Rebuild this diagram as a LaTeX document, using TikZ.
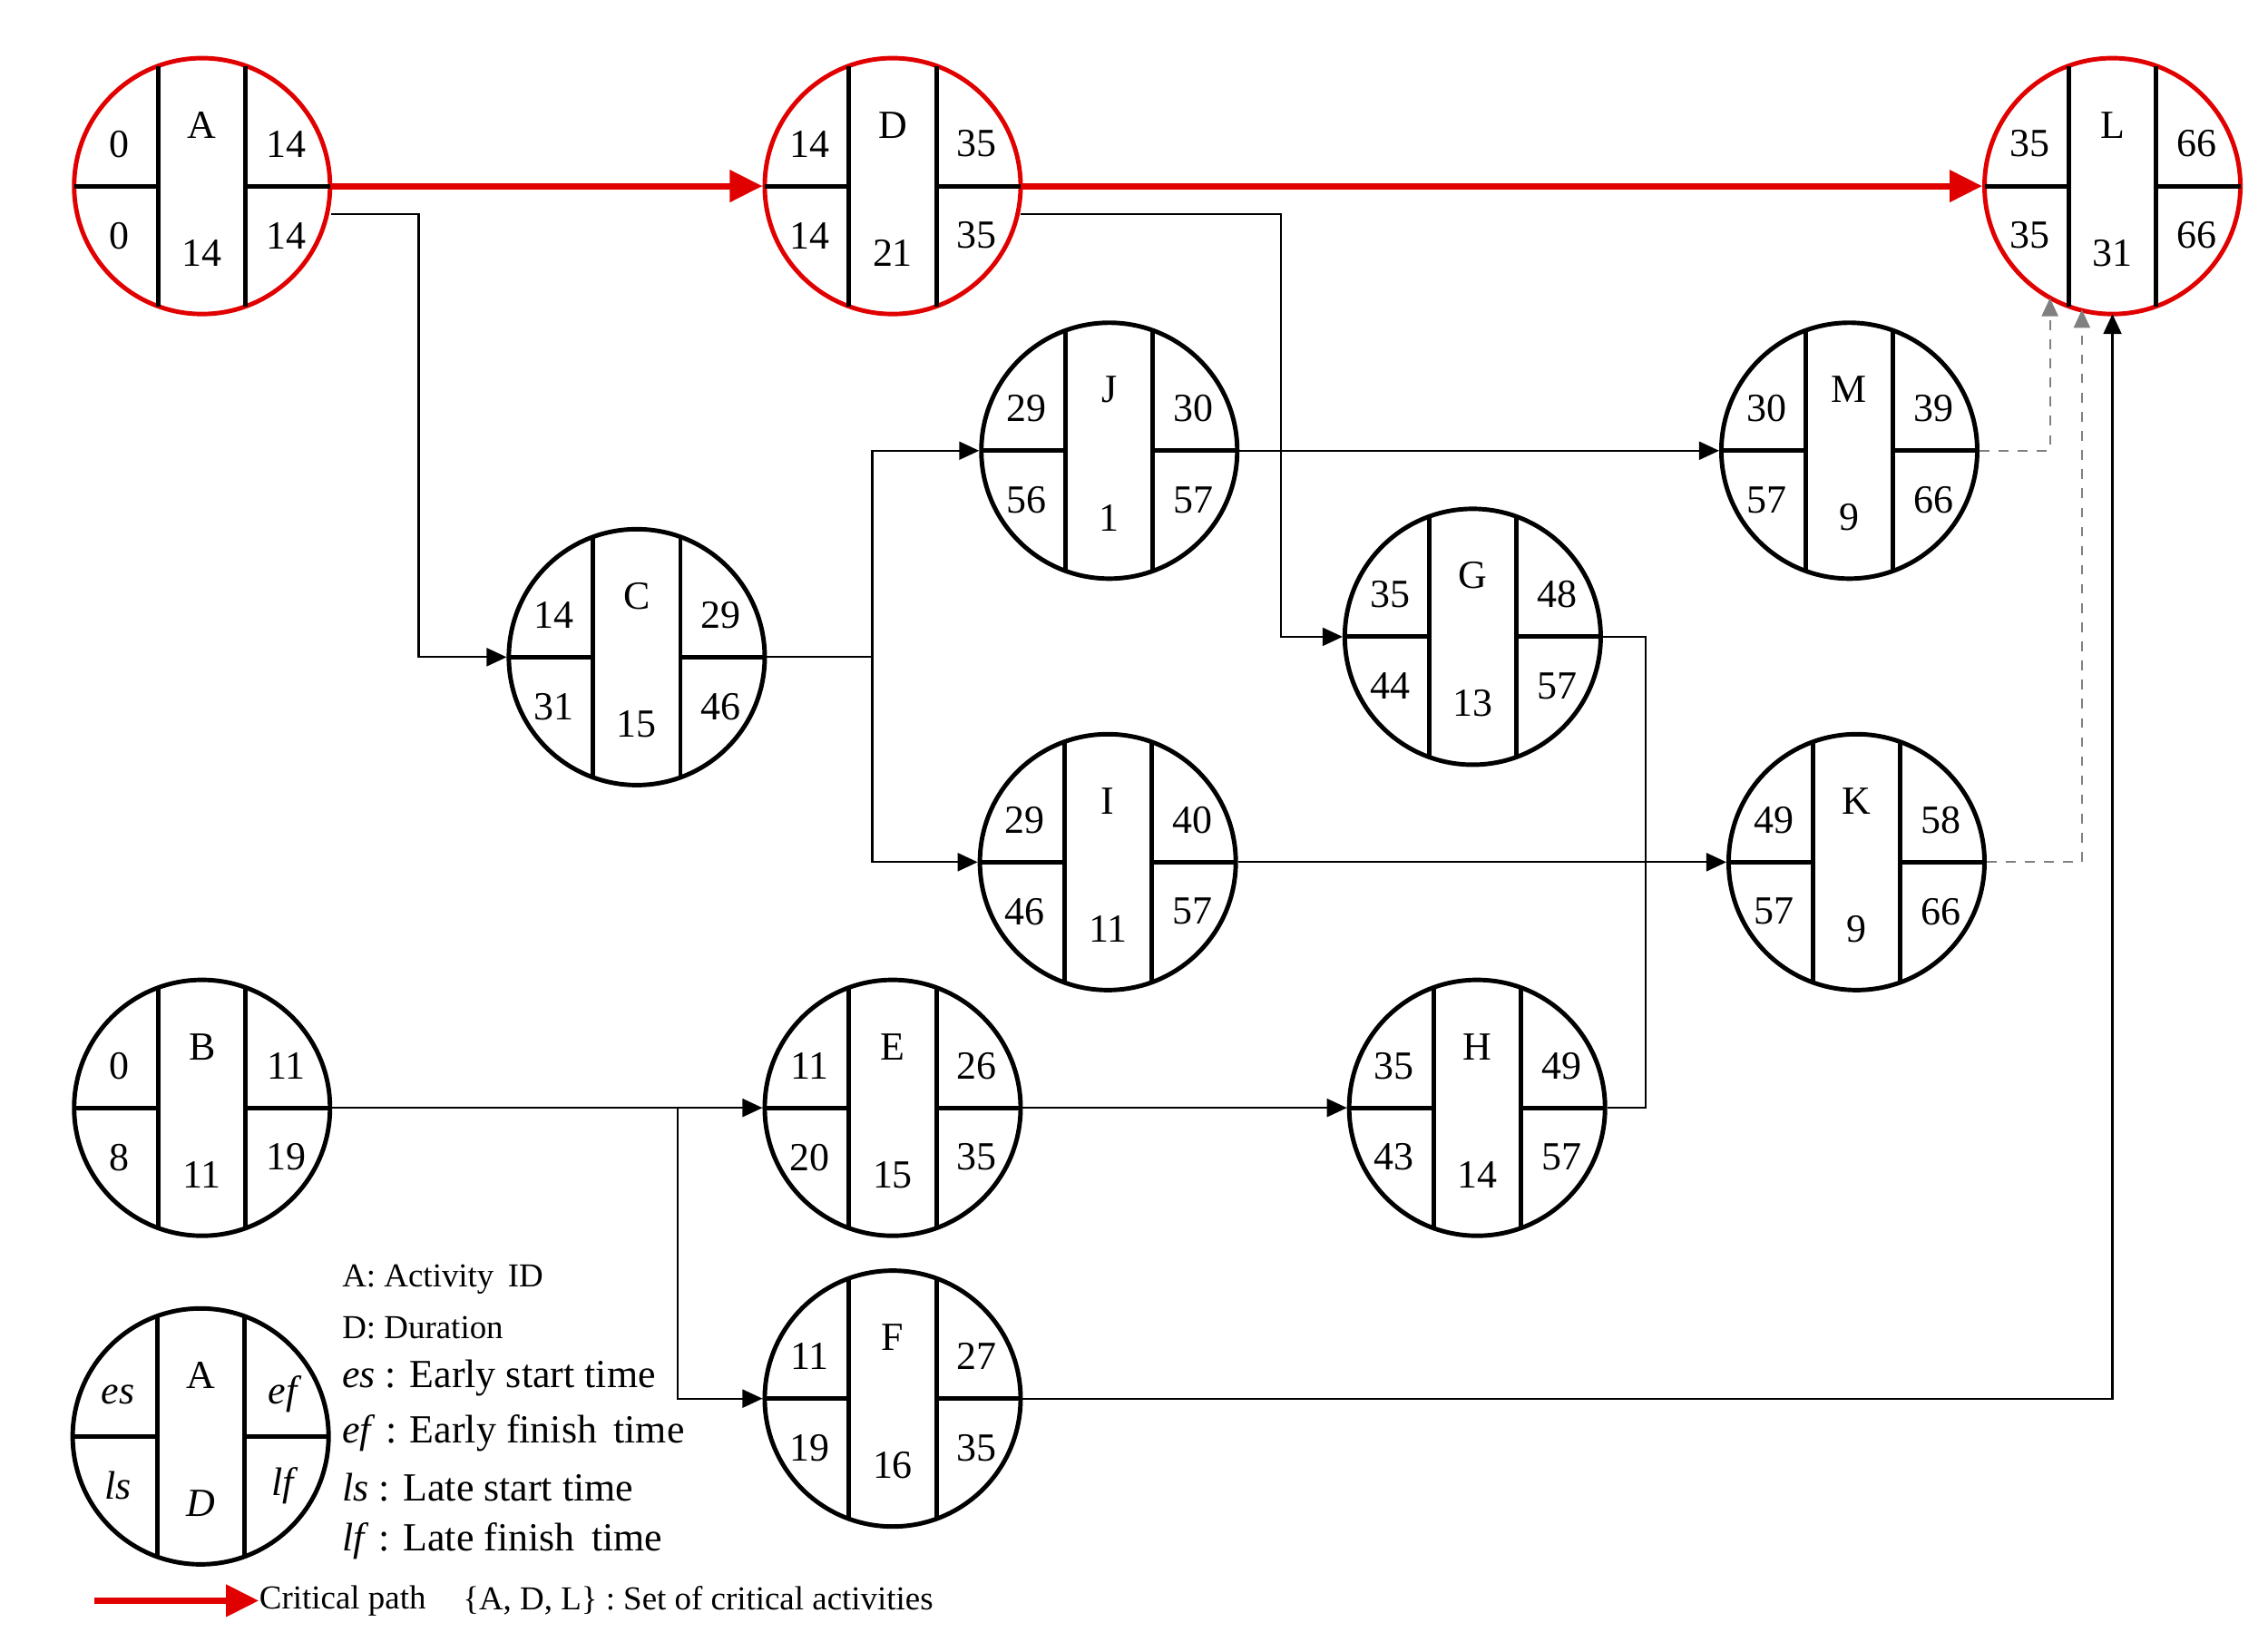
\documentclass[tikz,border=0pt]{standalone}
\usepackage{fontspec}
\setmainfont{Liberation Serif}
\usetikzlibrary{arrows.meta,calc}
\definecolor{crit}{RGB}{225,0,0}
\tikzset{
  act/.style={circle,draw,line width=1.4pt,minimum size=2.82cm,inner sep=0pt},
  div/.style={line width=1.4pt},
  num/.style={font=\fontsize{12.5}{15}\selectfont,inner sep=0pt},
  conn/.style={line width=0.6pt,-{Triangle[length=0.22cm,width=0.2cm]}},
  plain/.style={line width=0.6pt},
  critc/.style={line width=2pt,crit,-{Triangle[length=0.36cm,width=0.34cm]}},
  dashc/.style={line width=0.6pt,gray,dashed,-{Triangle[length=0.2cm,width=0.18cm]}},
  leg/.style={font=\fontsize{12.5}{15}\selectfont,anchor=west,inner sep=0pt},
  legs/.style={font=\fontsize{10.5}{13}\selectfont,anchor=west,inner sep=0pt}
}
\newcommand{\actnd}[9]{%
  % #1 name, #2 position, #3 colour, #4 es, #5 ef, #6 ls, #7 lf, #8 id, #9 dur
  \node[act,draw=#3] (#1) at (#2) {};
  \draw[div] ($(#1)+(-30,-82.7)$) -- ($(#1)+(-30,82.7)$);
  \draw[div] ($(#1)+(30,-82.7)$) -- ($(#1)+(30,82.7)$);
  \draw[div] ($(#1)+(-88,0)$) -- ($(#1)+(-30,0)$);
  \draw[div] ($(#1)+(30,0)$) -- ($(#1)+(88,0)$);
  \node[num] (#1es) at ($(#1)+(-57,-29)$) {#4};
  \node[num] (#1ef) at ($(#1)+(58,-29)$) {#5};
  \node[num] (#1ls) at ($(#1)+(-57,34)$) {#6};
  \node[num] (#1lf) at ($(#1)+(58,34)$) {#7};
  \node[num] (#1id) at ($(#1)+(0,-42)$) {#8};
  \node[num] (#1du) at ($(#1)+(0,46)$) {#9};
}
\begin{document}
\begin{tikzpicture}[x=0.016026cm,y=-0.016026cm]
\useasboundingbox (0,0) rectangle (1560,1135.7);
\actnd{A}{139,128}{crit}{0}{14}{0}{14}{A}{14}
\actnd{D}{614,128}{crit}{14}{35}{14}{35}{D}{21}
\actnd{L}{1453,128}{crit}{35}{66}{35}{66}{L}{31}
\actnd{J}{763,310}{black}{29}{30}{56}{57}{J}{1}
\actnd{M}{1272,310}{black}{30}{39}{57}{66}{M}{9}
\actnd{C}{438,452}{black}{14}{29}{31}{46}{C}{15}
\actnd{G}{1013,438}{black}{35}{48}{44}{57}{G}{13}
\actnd{I}{762,593}{black}{29}{40}{46}{57}{I}{11}
\actnd{K}{1277,593}{black}{49}{58}{57}{66}{K}{9}
\actnd{B}{139,762}{black}{0}{11}{8}{19}{B}{11}
\actnd{E}{614,762}{black}{11}{26}{20}{35}{E}{15}
\actnd{H}{1016,762}{black}{35}{49}{43}{57}{H}{14}
\actnd{F}{614,962}{black}{11}{27}{19}{35}{F}{16}
\actnd{Lg}{138,988}{black}{\textit{es}}{\textit{ef}}{\textit{ls}}{\textit{lf}}{A}{\textit{D}}

% critical path
\draw[critc] (A.east) -- (D.west);
\draw[critc] (D.east) -- (L.west);

% connectors
\coordinate (a1) at (228,147);
\draw[conn] (a1) -- (288,147) |- (C.west);
\coordinate (d1) at (702,147);
\draw[conn] (d1) -- (881,147) |- (G.west);
\coordinate (c1) at (600,452);
\draw[plain] (C.east) -- (c1);
\draw[conn] (c1) |- (J.west);
\draw[conn] (c1) |- (I.west);
\draw[conn] (J.east) -- (M.west);
\draw[conn] (I.east) -- (K.west);
\draw[plain] (G.east) -- (1132,438) -- (1132,762) -- (H.east);
\coordinate (b1) at (466,762);
\draw[conn] (B.east) -- (E.west);
\draw[conn] (b1) |- (F.west);
\draw[conn] (E.east) -- (H.west);
\coordinate (lb) at (1453,216);
\draw[conn] (F.east) -| (lb);
\coordinate (lm) at (1410,205);
\coordinate (lk) at (1432,213);
\draw[dashc] (M.east) -| (lm);
\draw[dashc] (K.east) -| (lk);

% legend
\node[legs] (t1) at (235,880) {A: Activity\, ID};
\node[legs] (t2) at (235,913) {D: Duration};
\node[leg] (t3) at (235,948) {\textit{es} : Early start time};
\node[leg] (t4) at (235,986) {\textit{ef} : Early finish\, time};
\node[leg] (t5) at (235,1023) {\textit{ls} : Late start time};
\node[leg] (t6) at (235,1060) {\textit{lf} : Late finish\, time};
\coordinate (r0) at (65,1101);
\node[legs] (t7) at (178,1101) {Critical path};
\draw[critc] (r0) -- (t7.west);
\node[legs] (t8) at (318,1101) {\{A, D, L\} : Set of critical activities};
\end{tikzpicture}
\end{document}
